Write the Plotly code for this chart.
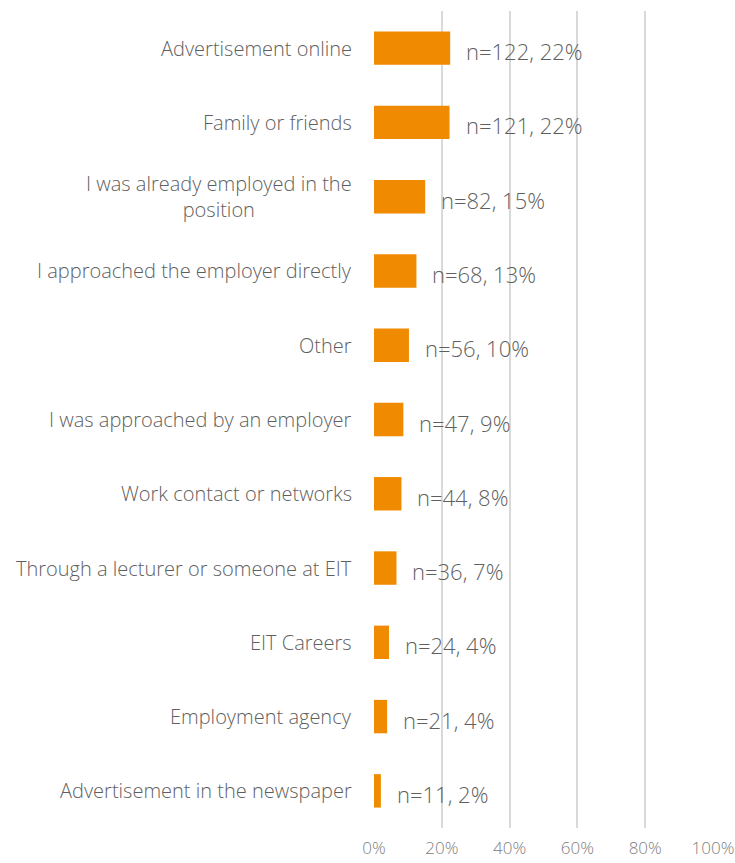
import plotly.graph_objects as go

categories = ['Advertisement online', 'Family or friends',
              'I was already employed in the<br>position',
              'I approached the employer directly', 'Other',
              'I was approached by an employer', 'Work contact or networks',
              'Through a lecturer or someone at EIT', 'EIT Careers',
              'Employment agency', 'Advertisement in the newspaper']
counts = [122, 121, 82, 68, 56, 47, 44, 36, 24, 21, 11]
percents = [22.47, 22.28, 15.10, 12.52, 10.31, 8.66, 8.10, 6.63, 4.42, 3.87, 2.03]
tick_vals = [0, 20, 40, 60, 80, 100]
tick_text = ['0%', '20%', '40%', '60%', '80%', '100%']

FONT = 'Open Sans'
orange = '#F08A00'

fig = go.Figure()
fig.add_trace(go.Bar(y=categories, x=percents, orientation='h',
                     marker=dict(color=orange, line=dict(width=0)),
                     width=0.45, hoverinfo='skip'))

for c, n, p in zip(categories, counts, percents):
    # value label right of the bar
    fig.add_annotation(x=p, y=c, xref='x', yref='y', xanchor='left', yanchor='middle',
                       xshift=14, yshift=-3, showarrow=False,
                       text='n=%d, %d%%' % (n, int(p + 0.5)),
                       font=dict(family=FONT, size=22, color='#5f5f5f', weight=300))
    # category label: lines centred, box right-aligned against the axis
    fig.add_annotation(x=0, y=c, xref='paper', yref='y', xanchor='right', yanchor='middle',
                       xshift=-20, showarrow=False, align='center', text=c,
                       font=dict(family=FONT, size=20, color='#5f5f5f', weight=300))

fig.update_xaxes(range=[0, 100], tickvals=tick_vals, ticktext=tick_text,
                 showgrid=True, gridcolor='#d9d9d9', gridwidth=2, automargin=False,
                 zeroline=False, showline=False, ticks='', ticklabelstandoff=8,
                 tickfont=dict(family=FONT, size=17, color='#808080', weight=300))
fig.update_yaxes(categoryorder='array', categoryarray=categories[::-1], automargin=False,
                 showticklabels=False, showgrid=False, zeroline=False, ticks='')
fig.update_layout(width=735, height=863, plot_bgcolor='white', paper_bgcolor='white',
                  margin=dict(l=374, r=22, t=11, b=35, autoexpand=False), showlegend=False,
                  font=dict(family=FONT))
fig.write_html('out.html', config={'displayModeBar': False},
               post_script="document.body.style.margin='0';")
